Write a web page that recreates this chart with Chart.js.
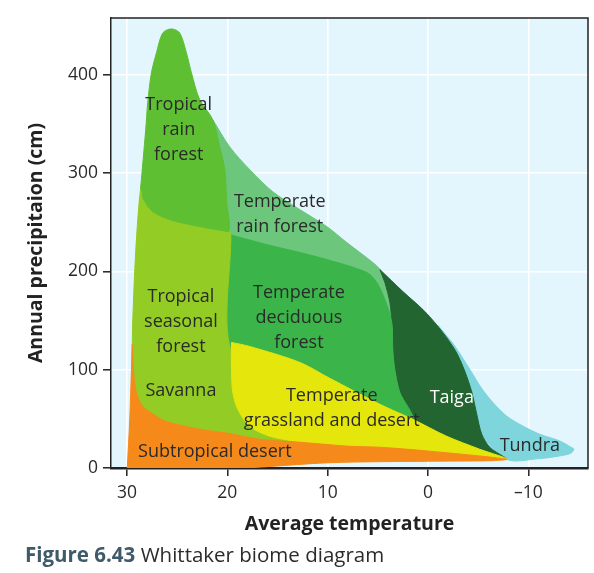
<!DOCTYPE html>
<html>
<head>
<meta charset="utf-8">
<script src="https://cdn.jsdelivr.net/npm/chart.js@4.4.1/dist/chart.umd.min.js"></script>
<style>
html, body { margin: 0; padding: 0; background: #fff; }
#wrap { position: relative; width: 594px; height: 573px; }
#caption {
    position: absolute; left: 25px; top: 540px;
    font-family: 'Open Sans', sans-serif; font-size: 20.5px; line-height: normal;
    color: #2b2b2b; white-space: nowrap;
}
#caption b { color: #3f5a69; }
</style>
</head>
<body>
<div id="wrap">
    <canvas id="biomeChart" width="594" height="573"></canvas>
    <div id="caption"><b>Figure 6.43</b> Whittaker biome diagram</div>
</div>
<script>
// axis ticks
const tempTicks = [30, 20, 10, 0, -10];
const precipTicks = [0, 100, 200, 300, 400];

// biome outlines: average temperature (°C) / annual precipitation (cm)
const tundraTemp   = [-1.0, -2.6, -4.17, -5.27, -6.45, -7.83, -9.45, -11.15, -13.14, -14.31, -14.54, -14.24, -13.14, -11.15, -7.83, -5.0, -3.0, -1.0];
const tundraPrecip = [145.0, 125.0, 100.3, 82.1, 66.8, 52.9, 42.7, 34.3, 27.5, 20.8, 19.1, 15.0, 12.3, 9.6, 8.9, 40, 110, 145.0];

const tempRainTemp   = [21.44, 19.76, 17.77, 15.47, 12.78, 10.09, 8.09, 5.50, 4.80, 4.30, 3.80, 3.61, 3.51, 19.96, 20.5, 21.44];
const tempRainPrecip = [353.9, 326.5, 303.4, 280.9, 262.8, 245.5, 229.2, 208.9, 201.8, 188.6, 168.3, 148.0, 120.6, 120.6, 300, 353.9];

const taigaTemp   = [4.80, 2.51, 0.32, -1.47, -2.77, -3.67, -4.37, -4.86, -5.36, -6.16, -7.46, -7.83, -5.15, -1.86, 1.52, 2.81, 3.31, 3.51, 3.61, 3.80, 4.30, 4.80];
const taigaPrecip = [201.8, 179.5, 159.2, 137.9, 118.6, 98.3, 77.0, 54.6, 34.3, 21.1, 12.0, 9.6, 17.0, 28.0, 45.0, 77.0, 100.3, 120.6, 148.0, 168.3, 188.6, 201.8];

const decidTemp   = [19.80, 16.07, 12.78, 10.09, 6.10, 5.10, 4.30, 3.61, 3.51, 3.31, 2.81, 1.52, 5.0, 12.0, 19.5, 19.80];
const decidPrecip = [237.4, 227.2, 219.1, 212.0, 198.8, 188.6, 171.3, 148.0, 120.6, 100.3, 77.0, 49.5, 55.0, 90.0, 115.0, 237.4];

const rainTemp   = [28.66, 28.14, 27.94, 27.57, 27.07, 26.44, 25.57, 24.75, 24.08, 23.58, 22.75, 21.44, 20.76, 20.26, 20.06, 19.96, 22.75, 25.44, 27.44, 28.43, 28.66];
const rainPrecip = [283.0, 343.9, 371.4, 401.8, 422.1, 442.4, 446.5, 442.4, 422.1, 401.8, 374.4, 353.9, 326.5, 303.4, 269.9, 239.4, 239.0, 245.0, 254.0, 267.0, 283.0];

const seasonalTemp   = [29.48, 29.43, 29.13, 28.66, 28.43, 27.44, 25.44, 22.75, 19.96, 19.66, 19.66, 15.0, 10.0, 10.0, 20.0, 26.14, 27.54, 28.43, 29.03, 29.33, 29.48];
const seasonalPrecip = [125.7, 150.6, 221.1, 283.0, 272.9, 259.7, 250.6, 244.5, 239.4, 239.0, 120.0, 80.0, 40.0, 15.0, 20.0, 44.0, 52.0, 60.0, 74.9, 95.2, 125.7];

const grassTemp   = [19.59, 17.77, 12.78, 9.79, 4.80, 1.51, -1.86, -5.15, -7.84, 0.0, 10.0, 12.78, 15.77, 17.77, 18.96, 19.46, 19.59, 19.59];
const grassPrecip = [127.7, 123.6, 107.4, 91.2, 64.8, 49.5, 32.3, 19.1, 8.9, 14.0, 20.0, 26.2, 32.3, 42.4, 59.7, 77.0, 100.3, 127.7];

const desertTemp   = [29.98, 29.73, 29.56, 29.48, 29.33, 29.03, 28.43, 27.54, 26.14, 22.75, 19.96, 16.77, 12.78, 7.80, 4.80, -0.17, -7.85, -6.16, -0.17, 9.80, 18.74, 29.98];
const desertPrecip = [0, 49.5, 100.3, 125.7, 95.2, 74.9, 62.8, 55.7, 47.5, 39.4, 35.3, 29.2, 26.2, 22.1, 21.1, 17.1, 8.9, 7.4, 6.9, 5.4, 0, 0];

// back to front
const biomes = [
    { name: 'Tundra', color: '#7fd5dc', temp: tundraTemp, precip: tundraPrecip },
    { name: 'Temperate rain forest', color: '#6cc67c', temp: tempRainTemp, precip: tempRainPrecip },
    { name: 'Taiga', color: '#226531', temp: taigaTemp, precip: taigaPrecip },
    { name: 'Temperate deciduous forest', color: '#3bb54a', temp: decidTemp, precip: decidPrecip },
    { name: 'Tropical rain forest', color: '#5ebf33', temp: rainTemp, precip: rainPrecip },
    { name: 'Tropical seasonal forest / Savanna', color: '#93cc24', temp: seasonalTemp, precip: seasonalPrecip },
    { name: 'Temperate grassland and desert', color: '#e5e60c', temp: grassTemp, precip: grassPrecip },
    { name: 'Subtropical desert', color: '#f58a1a', temp: desertTemp, precip: desertPrecip }
];

// region names, anchored in data units
const regionLabels = [
    { lines: ['Tropical', 'rain', 'forest'], t: 24.85, p: 344, color: '#2a2a2a' },
    { lines: ['Temperate', 'rain forest'], t: 14.78, p: 258, color: '#2a2a2a' },
    { lines: ['Tropical', 'seasonal', 'forest'], t: 24.63, p: 149, color: '#2a2a2a' },
    { lines: ['Temperate', 'deciduous', 'forest'], t: 12.87, p: 153, color: '#2a2a2a' },
    { lines: ['Savanna'], t: 24.63, p: 78.5, color: '#2a2a2a' },
    { lines: ['Temperate', 'grassland and desert'], t: 9.59, p: 61, color: '#2a2a2a' },
    { lines: ['Subtropical desert'], t: 21.25, p: 16, color: '#2a2a2a' },
    { lines: ['Taiga'], t: -2.37, p: 71, color: '#ffffff' },
    { lines: ['Tundra'], t: -10.15, p: 23, color: '#2a2a2a' }
];

const FONT = "'Open Sans', sans-serif";

const plotFrame = {
    id: 'plotFrame',
    beforeDraw(chart) {
        const { ctx, chartArea: a } = chart;
        ctx.save();
        ctx.fillStyle = '#e3f5fd';
        ctx.fillRect(a.left, a.top, a.right - a.left, a.bottom - a.top);
        ctx.restore();
    },
    afterDraw(chart) {
        const { ctx, chartArea: a } = chart;
        ctx.save();
        ctx.strokeStyle = '#222';
        ctx.lineWidth = 1.5;
        ctx.beginPath();
        ctx.moveTo(a.left, a.top);
        ctx.lineTo(a.right, a.top);
        ctx.lineTo(a.right, a.bottom);
        ctx.stroke();
        ctx.restore();
    }
};

const biomeLabels = {
    id: 'biomeLabels',
    afterDraw(chart) {
        const { ctx, scales: { x, y } } = chart;
        ctx.save();
        ctx.font = `18px ${FONT}`;
        ctx.textAlign = 'center';
        ctx.textBaseline = 'middle';
        const lh = 25;
        regionLabels.forEach(l => {
            const cx = x.getPixelForValue(l.t);
            const cy = y.getPixelForValue(l.p);
            ctx.fillStyle = l.color;
            l.lines.forEach((line, i) => {
                ctx.fillText(line, cx, cy + (i - (l.lines.length - 1) / 2) * lh);
            });
        });
        ctx.restore();
    }
};

new Chart(document.getElementById('biomeChart'), {
    type: 'scatter',
    data: {
        datasets: biomes.map((b, i) => ({
            label: b.name,
            data: b.temp.map((t, k) => ({ x: t, y: b.precip[k] })),
            showLine: true,
            fill: 'shape',
            backgroundColor: b.color,
            borderColor: b.color,
            borderWidth: 1,
            pointRadius: 0,
            tension: 0.3,
            order: biomes.length - i
        }))
    },
    options: {
        responsive: false,
        animation: false,
        layout: { padding: { top: 18, right: 6, bottom: 37, left: 25 } },
        plugins: {
            legend: { display: false },
            tooltip: { enabled: false }
        },
        scales: {
            x: {
                type: 'linear',
                reverse: true,
                min: -15.95,
                max: 31.6,
                z: 1,
                afterBuildTicks: s => { s.ticks = tempTicks.map(v => ({ value: v })); },
                afterFit: s => { s.height = 68; },
                grid: { color: '#ffffff', lineWidth: 1.6, tickColor: '#222', tickLength: 8, tickWidth: 1.5 },
                border: { color: '#222', width: 2.5 },
                ticks: {
                    color: '#2a2a2a',
                    padding: 7,
                    font: { family: FONT, size: 17.5 },
                    callback: v => v < 0 ? '\u2013' + Math.abs(v) : String(v)
                },
                title: {
                    display: true,
                    text: 'Average temperature',
                    color: '#222',
                    padding: 0,
                    font: { family: FONT, size: 19.5, weight: 'bold' }
                }
            },
            y: {
                type: 'linear',
                min: 0,
                max: 457.6,
                z: 1,
                afterBuildTicks: s => { s.ticks = precipTicks.map(v => ({ value: v })); },
                afterFit: s => { s.width = 86; },
                grid: {
                    color: c => c.tick && c.tick.value === 0 ? 'rgba(0,0,0,0)' : '#ffffff',
                    lineWidth: 1.6, tickColor: '#222', tickLength: 8, tickWidth: 1.5
                },
                border: { color: '#222', width: 1.5 },
                ticks: {
                    color: '#2a2a2a',
                    padding: 5,
                    font: { family: FONT, size: 17.5 }
                },
                title: {
                    display: true,
                    text: 'Annual precipitaion (cm)',
                    color: '#222',
                    padding: 0,
                    font: { family: FONT, size: 19.5, weight: 'bold' }
                }
            }
        }
    },
    plugins: [plotFrame, biomeLabels]
});
</script>
</body>
</html>
